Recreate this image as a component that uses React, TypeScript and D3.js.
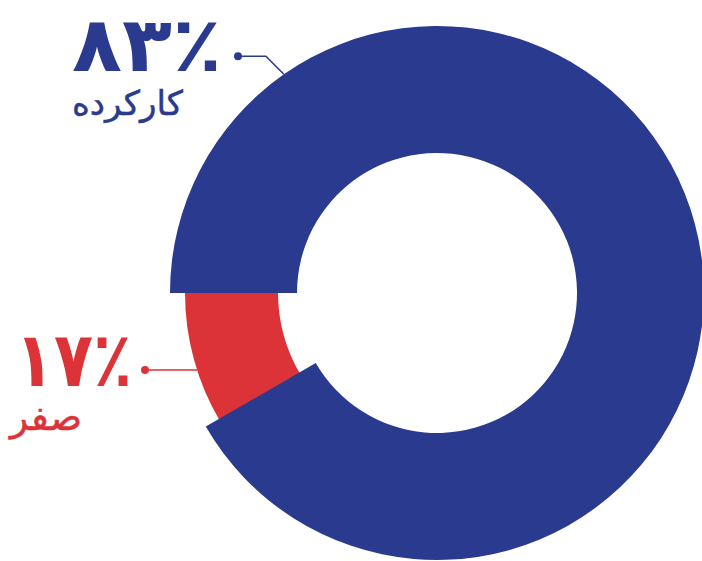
import React from 'react';
import * as d3 from 'd3';

// ---- data ----
const categories = ['کارکرده', 'صفر'];
const values = [83, 17];
const valueLabels = ['۸۳٪', '۱۷٪'];
const colors = ['#2a3a8e', '#dc3338'];

export default function App() {
  const W = 702;
  const H = 561;
  const cx = 437;
  const cy = 293;

  const pie = d3
    .pie<number>()
    .sort(null)
    .value((d) => d)
    .startAngle(-Math.PI / 2)
    .endAngle((3 * Math.PI) / 2);
  const slices = pie(values);

  const deg = Math.PI / 180;
  // ring geometry (styles)
  const rings = [
    { inner: 140, outer: 267, overlap: 31.2 * deg },
    { inner: 159, outer: 252, overlap: 0 },
  ];

  const arcGen = d3.arc<any>();

  const paths = slices.map((s, i) =>
    arcGen({
      innerRadius: rings[i].inner,
      outerRadius: rings[i].outer,
      startAngle: s.startAngle,
      endAngle: s.endAngle + rings[i].overlap,
    }) as string
  );

  // leader lines
  const polar = (a: number, r: number): [number, number] => [
    cx + r * Math.sin(a),
    cy - r * Math.cos(a),
  ];
  const blueAttach = polar(-35 * deg, rings[0].outer);
  const blueElbow: [number, number] = [blueAttach[0] - 18, blueAttach[1] - 18];
  const blueDot: [number, number] = [238, blueElbow[1]];

  const redY = 370;
  const redAttach: [number, number] = [
    cx - Math.sqrt(rings[1].outer ** 2 - (redY - cy) ** 2),
    redY,
  ];
  const redDot: [number, number] = [145, redY];

  const font = "'DejaVu Sans', 'Noto Sans', sans-serif";

  return (
    <svg
      width={W}
      height={H}
      viewBox={`0 0 ${W} ${H}`}
      style={{ position: 'absolute', left: 0, top: 0, background: '#fff' }}
    >
      <g transform={`translate(${cx},${cy})`}>
        {/* draw red first, blue on top */}
        <path d={paths[1]} fill={colors[1]} />
        <path d={paths[0]} fill={colors[0]} />
      </g>

      {/* blue leader */}
      <polyline
        points={[blueDot, blueElbow, blueAttach].map((p) => p.join(',')).join(' ')}
        fill="none"
        stroke={colors[0]}
        strokeWidth={1.6}
      />
      <circle cx={blueDot[0]} cy={blueDot[1]} r={4} fill={colors[0]} />

      {/* red leader */}
      <line
        x1={redDot[0]}
        y1={redDot[1]}
        x2={redAttach[0]}
        y2={redAttach[1]}
        stroke={colors[1]}
        strokeWidth={1.6}
      />
      <circle cx={redDot[0]} cy={redDot[1]} r={4} fill={colors[1]} />

      {/* labels */}
      <text
        x={72}
        y={71}
        textLength={150}
        lengthAdjust="spacingAndGlyphs"
        fontFamily={font}
        fontWeight={700}
        fontSize={76}
        fill={colors[0]}
      >
        {valueLabels[0]}
      </text>
      <text
        x={72}
        y={115}
        textLength={111}
        lengthAdjust="spacingAndGlyphs"
        fontFamily={font}
        fontWeight={400}
        fontSize={34}
        fill={colors[0]}
        stroke={colors[0]}
        strokeWidth={0.5}
      >
        {categories[0]}
      </text>

      <text
        x={15}
        y={386}
        textLength={117}
        lengthAdjust="spacingAndGlyphs"
        fontFamily={font}
        fontWeight={700}
        fontSize={76}
        fill={colors[1]}
      >
        {valueLabels[1]}
      </text>
      <text
        x={10}
        y={430}
        textLength={72}
        lengthAdjust="spacingAndGlyphs"
        fontFamily={font}
        fontWeight={400}
        fontSize={38}
        fill={colors[1]}
        stroke={colors[1]}
        strokeWidth={0.5}
      >
        {categories[1]}
      </text>
    </svg>
  );
}
